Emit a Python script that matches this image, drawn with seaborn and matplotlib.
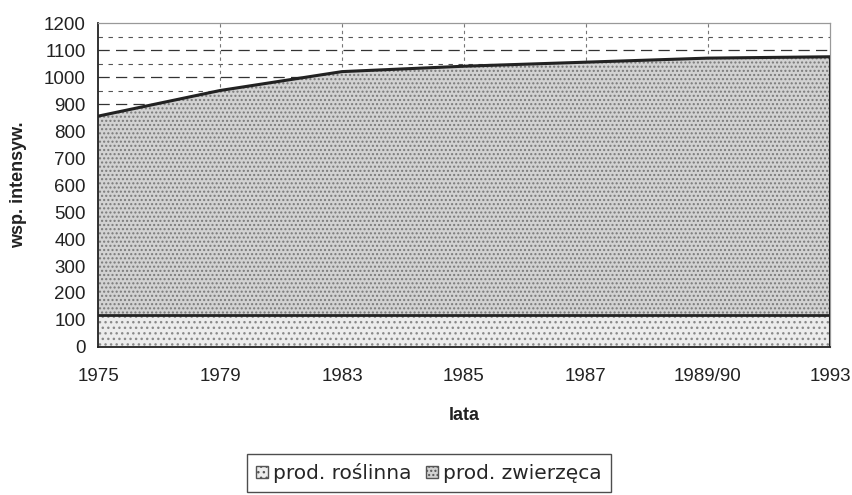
import matplotlib
matplotlib.use("Agg")
import matplotlib.pyplot as plt
import seaborn as sns
import numpy as np
import pandas as pd
from matplotlib.patches import Patch

years = ["1975", "1979", "1983", "1985", "1987", "1989/90", "1993"]
prod_roslinna = [120, 120, 120, 120, 120, 120, 120]
prod_zwierzeca = [735, 830, 900, 920, 935, 950, 955]
total = [855, 950, 1020, 1040, 1055, 1070, 1075]
y_ticks = list(range(0, 1201, 100))

sns.set_style("white")
plt.rcParams["font.family"] = ["Liberation Sans", "DejaVu Sans"]
plt.rcParams["hatch.linewidth"] = 1.0

fig = plt.figure(figsize=(8.53, 4.95), dpi=100)
ax = fig.add_axes([0.1149, 0.299, 0.973 - 0.1149, 0.9535 - 0.299])

x = np.arange(len(years))
df = pd.DataFrame({"x": x, "base": prod_roslinna, "total": total})

# grid lines
for v in range(950, 1200, 100):
    ax.axhline(v, color="#555555", lw=0.8, dashes=(4, 5), zorder=0)
for v in range(900, 1200, 100):
    ax.axhline(v, color="#333333", lw=0.9, dashes=(9, 5), zorder=0)
for xi in x[1:-1]:
    ax.axvline(xi, color="#777777", lw=0.8, dashes=(3, 3), zorder=0)

ax.fill_between(x, 0, prod_roslinna, facecolor="#ececec", edgecolor="#8a8a8a",
                hatch="...", lw=0, zorder=2)
ax.fill_between(x, prod_roslinna, total, facecolor="#d2d2d2", edgecolor="#7a7a7a",
                hatch="....", lw=0, zorder=2)

sns.lineplot(data=df, x="x", y="base", ax=ax, color="#222222", lw=2, zorder=3)
sns.lineplot(data=df, x="x", y="total", ax=ax, color="#222222", lw=2.2, zorder=3)
ax.plot([x[-1], x[-1]], [0, total[-1]], color="#222222", lw=1.5, zorder=3)

ax.set_xlim(0, len(years) - 1)
ax.set_ylim(0, 1200)
ax.set_yticks(y_ticks)
ax.set_xticks(x)
ax.set_xticklabels(years)
ax.tick_params(axis="both", which="both", length=4, width=1, color="#333333",
               direction="out", labelsize=13.5, colors="#222222")
ax.tick_params(axis="x", pad=11)
ax.tick_params(axis="y", pad=5)

for side in ["left", "bottom"]:
    ax.spines[side].set_color("#222222")
    ax.spines[side].set_linewidth(1.3)
for side in ["top", "right"]:
    ax.spines[side].set_color("#999999")
    ax.spines[side].set_linewidth(0.9)

ax.set_xlabel("lata", fontsize=13, fontweight="bold", labelpad=16, color="#222222")
ax.set_ylabel("wsp. intensyw.", fontsize=13, fontweight="bold", labelpad=12, color="#222222")

handles = [
    Patch(facecolor="#ececec", edgecolor="#555555", hatch="...", label="prod. roślinna"),
    Patch(facecolor="#d2d2d2", edgecolor="#555555", hatch="....", label="prod. zwierzęca"),
]
leg = fig.legend(handles=handles, loc="upper center", bbox_to_anchor=(0.503, 1 - 454 / 495),
                 ncol=2, frameon=True, fancybox=False,
                 prop={"family": ["DejaVu Sans"], "size": 14.5},
                 handlelength=0.6, handleheight=0.6, handletextpad=0.25,
                 columnspacing=0.7, borderpad=0.45, borderaxespad=0)
leg.get_frame().set_edgecolor("#222222")
leg.get_frame().set_linewidth(1.0)

fig.savefig("out.png", dpi=100)
